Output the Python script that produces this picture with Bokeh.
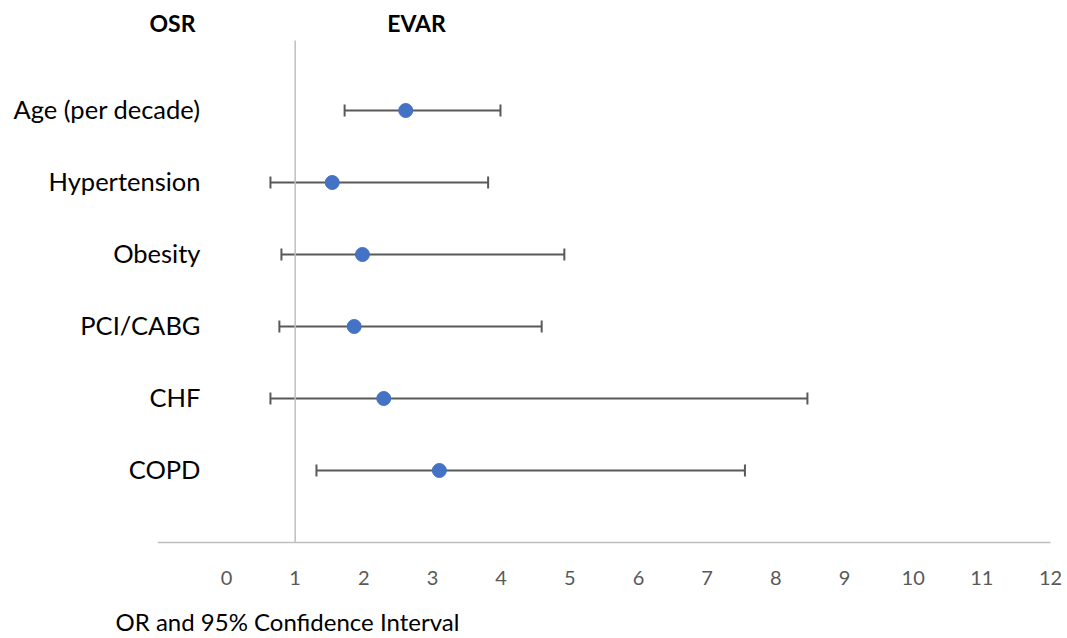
from bokeh.plotting import figure
from bokeh.models import ColumnDataSource, Whisker, TeeHead, Range1d
from bokeh.core.properties import value
from bokeh.embed import file_html
from bokeh.resources import INLINE

# Odds ratios with 95% confidence intervals (EVAR vs OSR)
factors = ["Age (per decade)", "Hypertension", "Obesity", "PCI/CABG", "CHF", "COPD"]
odds_ratio = [2.61, 1.54, 1.98, 1.86, 2.29, 3.10]
ci_lower = [1.72, 0.64, 0.80, 0.77, 0.64, 1.31]
ci_upper = [3.99, 3.81, 4.92, 4.59, 8.46, 7.55]
x_ticks = list(range(0, 13))
x_tick_labels = [str(t) for t in x_ticks]

FONT = "Lato"
n = len(factors)
rows = [n - i for i in range(n)]  # top row first

PX_X = 824 / 12   # pixels per OR unit
PX_Y = 72         # pixels per row

src = ColumnDataSource(dict(
    factor=factors, row=rows, orr=odds_ratio, lo=ci_lower, hi=ci_upper,
))

p = figure(
    width=1067, height=638, output_backend="svg", toolbar_location=None,
    x_range=Range1d(-226 / PX_X, 12 + 17 / PX_X),
    y_range=Range1d(-96 / PX_Y, 542 / PX_Y),
    min_border=0, outline_line_color=None,
)
p.grid.visible = False
p.axis.visible = False

# baseline axis and reference line at OR = 1
p.segment(x0=[-1], y0=[0], x1=[12], y1=[0], line_color="#bfbfbf", line_width=1.5)
p.segment(x0=[1], y0=[0], x1=[1], y1=[502 / PX_Y], line_color="#bfbfbf", line_width=1.5)

# tick labels along the baseline
p.text(x=x_ticks, y=[-35 / PX_Y] * len(x_ticks), text=x_tick_labels,
       text_align="center", text_baseline="middle", text_font=value(FONT),
       text_font_size="20px", text_color="#595959")

# confidence intervals
w = Whisker(
    source=src, base="row", lower="lo", upper="hi", dimension="width",
    line_color="#595959", line_width=2,
    lower_head=TeeHead(size=12, line_color="#595959", line_width=2),
    upper_head=TeeHead(size=12, line_color="#595959", line_width=2),
)
p.add_layout(w)

# point estimates
p.scatter(x="orr", y="row", source=src, size=14, color="#4472c4", line_color="#4472c4")

# factor labels
p.text(x=-26 / PX_X, y=[r + 2 / PX_Y for r in rows], text=factors, text_align="right",
       text_baseline="middle", text_font=value(FONT), text_font_size="25.5px",
       text_color="#000000")

# group headers
p.text(x=[-54 / PX_X, 190 / PX_X], y=[520 / PX_Y] * 2, text=["OSR", "EVAR"],
       text_align="center", text_baseline="middle", text_font=value(FONT),
       text_font_size="23px", text_font_style="bold", text_color="#000000")

# axis title
p.text(x=[-111 / PX_X], y=[-79 / PX_Y], text=["OR and 95% Confidence Interval"],
       text_align="left", text_baseline="middle", text_font=value(FONT),
       text_font_size="24px", text_color="#000000")

open("out.html", "w").write(file_html(p, INLINE))
